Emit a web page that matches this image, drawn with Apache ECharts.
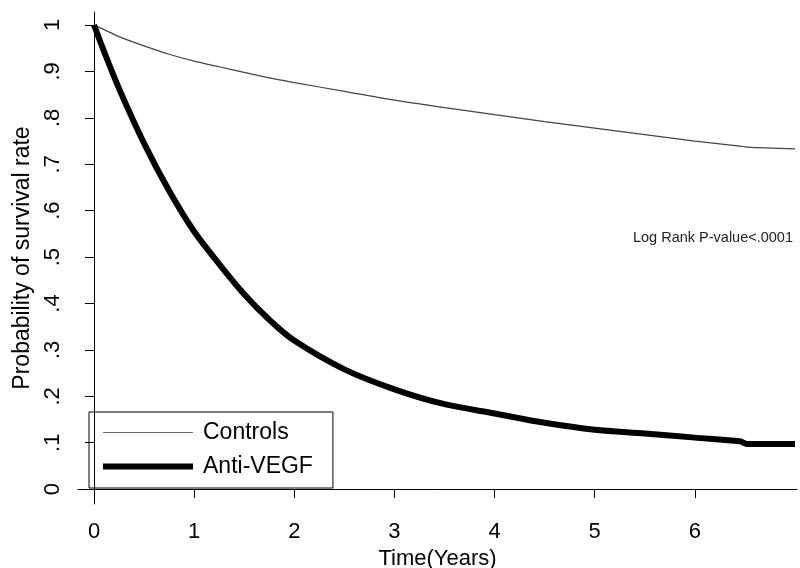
<!DOCTYPE html>
<html>
<head>
<meta charset="utf-8">
<script src="https://cdn.jsdelivr.net/npm/echarts@6/dist/echarts.min.js"></script>
<style>
  html, body { margin: 0; padding: 0; background: #fff; }
  #main { width: 800px; height: 568px; }
</style>
</head>
<body>
<div id="main"></div>
<script>
// survival curves
const timeYears = [0, 0.1, 0.25, 0.5, 0.75, 1, 1.25, 1.5, 1.75, 2, 2.5, 3, 3.5, 4, 4.5, 5, 5.5, 6, 6.45, 6.52, 7];
const controls = [1.0, 0.99, 0.975, 0.955, 0.937, 0.922, 0.91, 0.898, 0.886, 0.876, 0.857, 0.838, 0.822, 0.807, 0.792, 0.778, 0.764, 0.75, 0.739, 0.737, 0.733];
const antiVegf = [1.0, 0.943, 0.863, 0.745, 0.643, 0.555, 0.485, 0.42, 0.365, 0.32, 0.258, 0.215, 0.183, 0.163, 0.143, 0.128, 0.12, 0.111, 0.103, 0.097, 0.097];

const xTicks = [0, 1, 2, 3, 4, 5, 6];
const yTicks = [0, 0.1, 0.2, 0.3, 0.4, 0.5, 0.6, 0.7, 0.8, 0.9, 1];

const font = "'Liberation Sans', Arial, sans-serif";

const chart = echarts.init(document.getElementById("main"));

const pairs = (ys) => timeYears.map((t, i) => [t, ys[i]]);

const option = {
  backgroundColor: "#fff",
  animation: false,
  grid: { left: 78, right: 3, top: 12, bottom: 64, outerBoundsMode: "none" },
  legend: {
    orient: "vertical",
    left: 89,
    top: 412,
    padding: [9, 20, 10, 11],
    itemGap: 11,
    itemWidth: 90,
    itemHeight: 24,
    borderColor: "#000",
    borderWidth: 1,
    itemStyle: { color: "transparent", borderColor: "transparent", borderWidth: 0 },
    textStyle: { fontFamily: font, fontSize: 23, color: "#000", padding: [0, 0, 0, 5] },
    data: [
      { name: "Controls", lineStyle: { width: 1.2, color: "#666" } },
      { name: "Anti-VEGF", lineStyle: { width: 6, color: "#000" } },
    ],
  },
  xAxis: {
    type: "value",
    min: -0.16,
    max: 7.02,
    name: "Time(Years)",
    nameLocation: "middle",
    nameGap: 42,
    nameTextStyle: { fontFamily: font, fontSize: 22, color: "#000" },
    axisLine: { lineStyle: { color: "#000", width: 1 } },
    axisTick: { customValues: xTicks, length: 9, lineStyle: { color: "#000" } },
    axisLabel: {
      customValues: xTicks,
      fontFamily: font,
      fontSize: 22,
      color: "#000",
      margin: 17,
    },
    splitLine: { show: false },
  },
  yAxis: {
    type: "value",
    min: -0.032,
    max: 1.028,
    name: "Probability of survival rate",
    nameLocation: "middle",
    nameGap: 42,
    nameTextStyle: { fontFamily: font, fontSize: 23, color: "#000" },
    axisLine: { show: true, lineStyle: { color: "#000", width: 1 } },
    axisTick: { show: true, customValues: yTicks, length: 9, lineStyle: { color: "#000" } },
    axisLabel: {
      customValues: yTicks,
      rotate: 90,
      fontFamily: font,
      fontSize: 22,
      color: "#000",
      margin: 14,
      formatter: (v) => {
        if (v === 0) return "0";
        if (v === 1) return "1";
        return "." + Math.round(v * 10);
      },
    },
    splitLine: { show: false },
  },
  graphic: [
    {
      type: "text",
      right: 7,
      top: 230,
      style: {
        text: "Log Rank P-value<.0001",
        font: "14.5px " + font,
        fill: "#222",
      },
    },
  ],
  series: [
    {
      name: "Controls",
      type: "line",
      data: pairs(controls),
      showSymbol: false,
      symbol: "none",
      smooth: 0.3,
      lineStyle: { color: "#444", width: 1.2 },
      itemStyle: { color: "#444" },
    },
    {
      name: "Anti-VEGF",
      type: "line",
      data: pairs(antiVegf),
      showSymbol: false,
      symbol: "none",
      smooth: 0.3,
      lineStyle: { color: "#000", width: 6 },
      itemStyle: { color: "#000" },
    },
  ],
};

chart.setOption(option);
</script>
</body>
</html>
